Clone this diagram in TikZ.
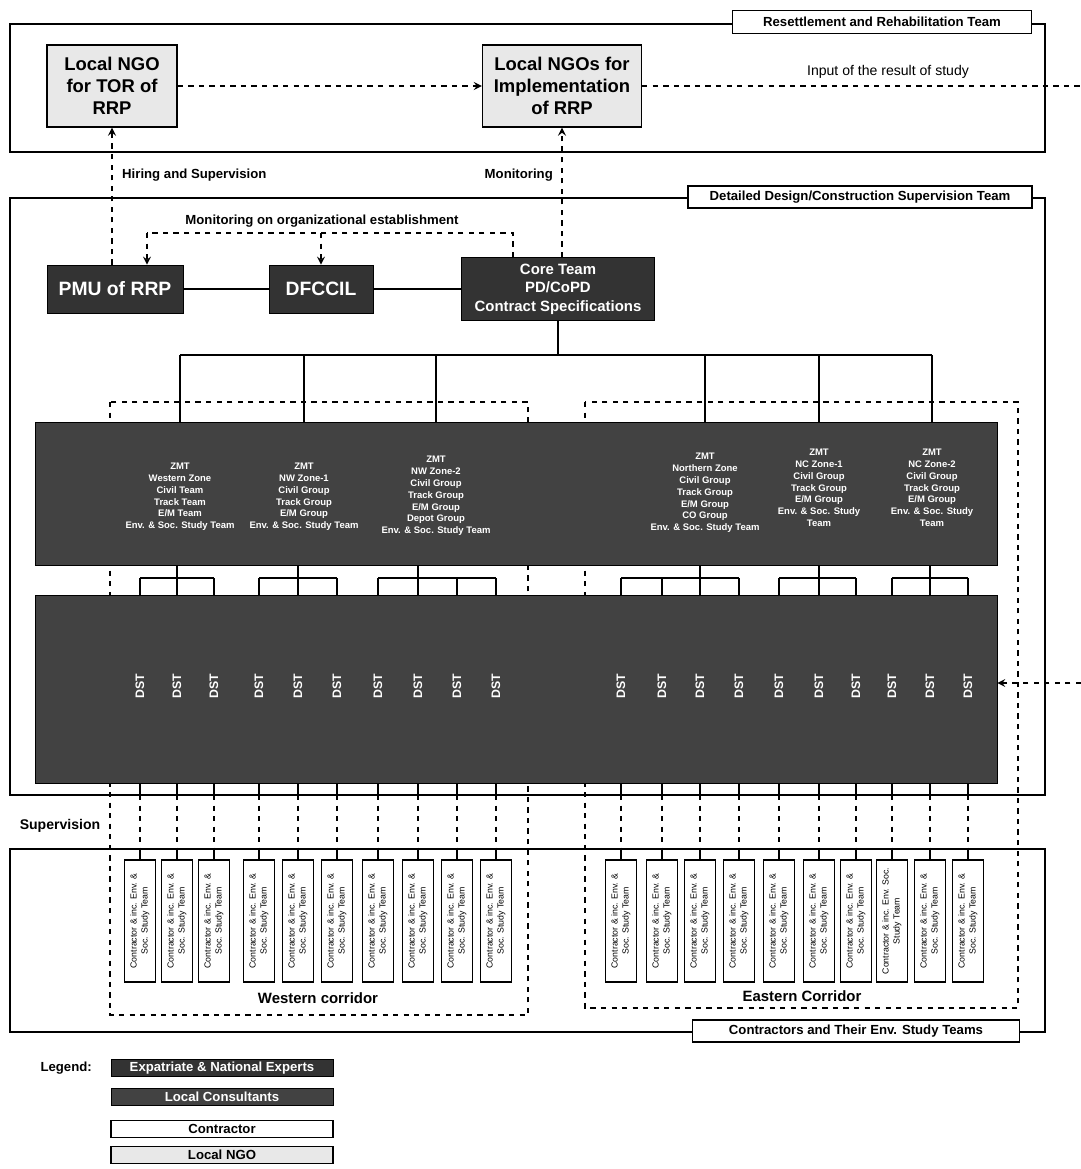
\documentclass[tikz,border=0pt]{standalone}
\usepackage{fontspec}
\setmainfont{Liberation Sans}
\usepackage{tikz}
\usetikzlibrary{calc}

\definecolor{expert}{gray}{0.2}
\definecolor{consult}{gray}{0.26}
\definecolor{ngofill}{gray}{0.91}

\newcommand{\fsz}[2]{\fontsize{#1}{#2}\selectfont}
\newcommand{\ctrA}{\begin{tabular}{@{}c@{}}Contractor \& inc. Env. \&\\Soc. Study Team\end{tabular}}
\newcommand{\ctrB}{\begin{tabular}{@{}c@{}}Contractor \& inc. Env. Soc.\\Study Team\end{tabular}}

\tikzset{
  teamframe/.style={draw, line width=1.2},
  tag/.style={draw, fill=white, line width=0.8, inner sep=0, font=\bfseries\fsz{7.5}{9}},
  ngo/.style={draw, fill=ngofill, line width=0.8, inner sep=0, align=center, font=\bfseries\fsz{10.5}{12.5}},
  expbox/.style={draw, fill=expert, text=white, inner sep=0, align=center},
  consbox/.style={draw, fill=consult, text=white, inner sep=0, align=center},
  zmt/.style={text=white, align=center, font=\bfseries\fsz{5.4}{6.7}},
  dst/.style={text=white, rotate=90, font=\bfseries\fsz{7}{8}},
  ctr/.style={draw, fill=white, line width=0.8, inner sep=0, minimum width=0.62cm, minimum height=2.44cm, font=\fsz{5}{6.2}},
  link/.style={line width=1.1},
  supline/.style={dashed, line width=1},
  lbl/.style={font=\bfseries\fsz{7.5}{9}},
  corr/.style={font=\bfseries\fsz{8.5}{10}},
}

\begin{document}
\begin{tikzpicture}[x=0.02cm, y=-0.02cm]
  \useasboundingbox (0,0) rectangle (1081,1169);

  % team frames
  \draw[teamframe] (10,24) rectangle (1045,152);
  \draw[teamframe] (10,198) rectangle (1045,795);
  \draw[teamframe] (10,849) rectangle (1045,1032);

  % corridors
  \draw[supline] (110,402) rectangle (528,1015);
  \draw[supline] (585,402) rectangle (1018,1008);
  \node[corr] (west) at (318,998) {Western corridor};
  \node[corr] (east) at (802,996) {Eastern Corridor};

  \node[tag, minimum width=5.98cm, minimum height=0.46cm] (rrt) at (882,22) {Resettlement and Rehabilitation Team};
  \node[tag, minimum width=6.88cm, minimum height=0.44cm] (ddt) at (860,197) {Detailed Design/Construction Supervision Team};
  \node[tag, minimum width=6.54cm, minimum height=0.44cm] (ctt) at (856,1031) {Contractors and Their Env. Study Teams};

  % local NGOs
  \node[ngo, minimum width=2.6cm, minimum height=1.64cm] (ngo1) at (112,86) {Local NGO\\for TOR of\\RRP};
  \node[ngo, minimum width=3.18cm, minimum height=1.64cm] (ngo2) at (562,86) {Local NGOs for\\Implementation\\of RRP};
  \draw[supline, ->, >=stealth] (ngo1) -- (ngo2);
  \coordinate (inR) at (1081,86);
  \draw[supline] (ngo2) -- (inR);
  \node[font=\fsz{8}{9}] (inlbl) at (888,72) {Input of the result of study};

  % client side
  \node[expbox, minimum width=2.72cm, minimum height=0.96cm, font=\bfseries\fsz{11}{13}] (pmu) at (115,289) {PMU of RRP};
  \node[expbox, minimum width=2.08cm, minimum height=0.96cm, font=\bfseries\fsz{11}{13}] (dfccil) at (321,289) {DFCCIL};
  \node[expbox, minimum width=3.86cm, minimum height=1.26cm, font=\bfseries\fsz{8.5}{10.6}] (core) at (558,289) {Core Team\\PD/CoPD\\Contract Specifications};
  \draw[link] (pmu) -- (dfccil);
  \draw[link] (dfccil) -- (core);

  \draw[supline, ->, >=stealth] (pmu.north -| ngo1.south) -- (ngo1.south);
  \node[lbl, anchor=west] (hirelbl) at (116,175) {Hiring and Supervision};
  \draw[supline, ->, >=stealth] (core.north -| ngo2.south) -- (ngo2.south);
  \node[lbl, anchor=east] (monlbl) at (559,175) {Monitoring};

  \coordinate (orgR) at (513,233);
  \coordinate (orgL) at (147,233);
  \draw[supline] (core.north -| orgR) -- (orgR) -- (orgL);
  \draw[supline, ->, >=stealth] (orgL) -- (orgL |- pmu.north);
  \draw[supline, ->, >=stealth] (dfccil.north |- orgL) -- (dfccil.north);
  \node[lbl] (orglbl) at (322,221) {Monitoring on organizational establishment};

  % zone teams
  \node[consbox, minimum width=19.24cm, minimum height=2.86cm] (zmtbox) at (516,493.5) {};
  \node[zmt] (z1) at (180,497) {ZMT\\Western Zone\\Civil Team\\Track Team\\E/M Team\\Env. \& Soc. Study Team};
  \node[zmt] (z2) at (304,497) {ZMT\\NW Zone-1\\Civil Group\\Track Group\\E/M Group\\Env. \& Soc. Study Team};
  \node[zmt] (z3) at (436,496) {ZMT\\NW Zone-2\\Civil Group\\Track Group\\E/M Group\\Depot Group\\Env. \& Soc. Study Team};
  \node[zmt] (z4) at (705,493) {ZMT\\Northern Zone\\Civil Group\\Track Group\\E/M Group\\CO Group\\Env. \& Soc. Study Team};
  \node[zmt] (z5) at (819,488) {ZMT\\NC Zone-1\\Civil Group\\Track Group\\E/M Group\\Env. \& Soc. Study\\Team};
  \node[zmt] (z6) at (932,488) {ZMT\\NC Zone-2\\Civil Group\\Track Group\\E/M Group\\Env. \& Soc. Study\\Team};

  \coordinate (bus) at (558,355);
  \draw[link] (core.south) -- (bus);
  \draw[link] (z1 |- bus) -- (z6 |- bus);
  \foreach \z in {z1,z2,z3,z4,z5,z6}
    \draw[link] (\z |- bus) -- (\z |- zmtbox.north);

  % design supervision teams
  \node[consbox, minimum width=19.24cm, minimum height=3.76cm] (dstbox) at (516,689) {};
  \foreach \x [count=\i] in {140,177,214,259,298,337,378,418,457,496,621,662,700,739,779,819,856,892,930,968}
    \node[dst] (d\i) at (\x,686) {DST};

  \coordinate (brk) at (0,578);
  \foreach \i in {1,...,20}
    \draw[link] (d\i |- brk) -- (d\i |- dstbox.north);
  \foreach \a/\b in {1/3,4/6,7/10,11/14,15/17,18/20}
    \draw[link] (d\a |- brk) -- (d\b |- brk);
  \foreach \s in {2,5,8,13,16,19}
    \draw[link] (d\s |- zmtbox.south) -- (d\s |- brk);

  \coordinate (dstR) at (1081,683);
  \draw[supline, ->, >=stealth] (dstR) -- (dstbox.east |- dstR);

  % contractors
  \foreach \x [count=\i] in {140,177,214,259,298,337,378,418,457,496,621,662,700,739,779,819,856,892,930,968} {
    \ifnum\i=18 \def\ctrtxt{\ctrB}\else\def\ctrtxt{\ctrA}\fi
    \node[ctr] (c\i) at (\x,921) {\rotatebox{90}{\ctrtxt}};
  }

  \coordinate (ddB) at (0,795);
  \coordinate (ctT) at (0,849);
  \foreach \i in {1,...,20} {
    \draw[link] (d\i |- dstbox.south) -- (d\i |- ddB);
    \draw[supline] (d\i |- ddB) -- (d\i |- ctT);
    \draw[link] (d\i |- ctT) -- (c\i.north);
  }
  \node[font=\bfseries\fsz{8}{9}] (suplbl) at (60,826) {Supervision};

  % legend
  \node[lbl, anchor=east] (leg) at (98,1068) {Legend:};
  \node[expbox, minimum width=4.44cm, minimum height=0.34cm, font=\bfseries\fsz{7.5}{9}] (lg1) at (222,1068) {Expatriate \& National Experts};
  \node[consbox, minimum width=4.44cm, minimum height=0.34cm, font=\bfseries\fsz{7.5}{9}] (lg2) at (222,1097) {Local Consultants};
  \node[tag, minimum width=4.44cm, minimum height=0.34cm] (lg3) at (222,1129) {Contractor};
  \node[ngo, minimum width=4.44cm, minimum height=0.34cm, font=\bfseries\fsz{7.5}{9}] (lg4) at (222,1155) {Local NGO};
\end{tikzpicture}
\end{document}
